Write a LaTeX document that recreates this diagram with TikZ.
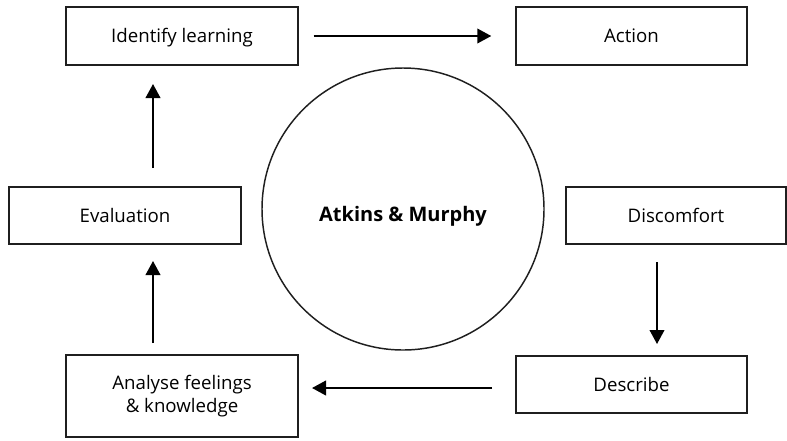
\documentclass[tikz,border=0pt]{standalone}
\usepackage{fontspec}
\setmainfont{Open Sans}
\usetikzlibrary{arrows.meta}
\begin{document}
\begin{tikzpicture}[x=0.75pt,y=-0.75pt,
  boxbase/.style={draw=black!88,line width=1.1pt,rectangle,inner sep=0pt,font=\fontsize{14}{17}\selectfont,align=center},
  box/.style={boxbase,text height=10pt,text depth=0pt},
  conn/.style={line width=1.4pt,-{Triangle[width=11pt,length=10.5pt]}}]
\useasboundingbox (0,0) rectangle (787,440);
\node[box,minimum width=232*0.75pt,minimum height=58*0.75pt] (ident) at (182,36) {Identify learning};
\node[box,minimum width=231*0.75pt,minimum height=58*0.75pt] (action) at (631.5,36) {Action};
\node[box,minimum width=232*0.75pt,minimum height=57*0.75pt] (eval) at (125,215.5) {Evaluation};
\node[box,minimum width=220*0.75pt,minimum height=57*0.75pt] (disc) at (676,215.5) {Discomfort};
\node[boxbase,minimum width=232*0.75pt,minimum height=82*0.75pt] (anal) at (182,396) {Analyse feelings\\\& knowledge};
\node[box,minimum width=231*0.75pt,minimum height=57*0.75pt] (desc) at (631.5,384.5) {Describe};
\node[draw=black!88,line width=1.1pt,circle,minimum size=282*0.75pt,inner sep=0pt,font=\fontsize{15}{18}\selectfont\bfseries,text height=18pt,text depth=0pt] (core) at (403,209) {Atkins \& Murphy};
\coordinate (a1s) at (153,168);
\coordinate (a1e) at (153,84);
\coordinate (a2s) at (153,343);
\coordinate (a2e) at (153,261);
\coordinate (a3s) at (657,262);
\coordinate (a3e) at (657,344);
\coordinate (a4s) at (492,388);
\coordinate (a4e) at (312,388);
\draw[conn,shorten <=15*0.75pt,shorten >=24*0.75pt] (ident.east) -- (action.west);
\draw[conn] (a1s) -- (a1e);
\draw[conn] (a2s) -- (a2e);
\draw[conn] (a3s) -- (a3e);
\draw[conn] (a4s) -- (a4e);
\end{tikzpicture}
\end{document}
